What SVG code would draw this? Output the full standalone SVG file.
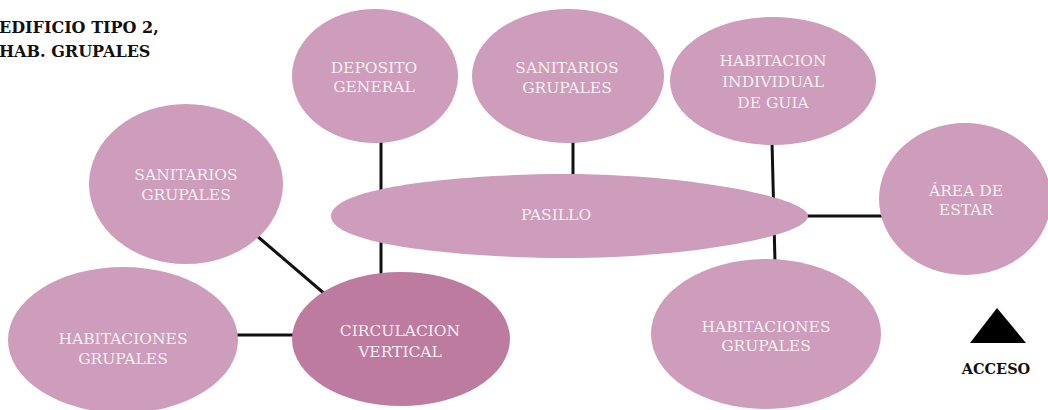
<svg xmlns="http://www.w3.org/2000/svg" width="1048" height="410" viewBox="0 0 1048 410">
<style>
.n{fill:#cd9dbb}
.d{fill:#bd7ba0}
.t{font-family:'DejaVu Serif','Liberation Serif',serif;font-size:15.5px;fill:#f7eff3;text-anchor:middle}
.b{font-family:'DejaVu Serif','Liberation Serif',serif;font-weight:bold;fill:#111}
.c line{stroke:#111;stroke-width:3}
</style>
<rect width="1048" height="410" fill="#fff"/>
<g id="title"><text class="b" x="-1" y="33" font-size="16">EDIFICIO TIPO 2,</text><text class="b" x="-1" y="57" font-size="16">HAB. GRUPALES</text></g>
<g class="c" id="connectors">
<line x1="381" y1="140" x2="381" y2="274"/>
<line x1="573" y1="140" x2="573" y2="180"/>
<line x1="772" y1="142" x2="775" y2="262"/>
<line x1="800" y1="216" x2="882" y2="216"/>
<line x1="257" y1="236" x2="326" y2="295"/>
<line x1="236" y1="335" x2="294" y2="335"/>
</g>
<g id="pasillo"><path class="n" d="M331,216 C331,186 470,174 565,174 C690,174 808,198 808,216 C808,236 690,258 565,258 C470,258 331,246 331,216 Z"/><text class="t" x="556" y="220">PASILLO</text></g>
<g id="deposito"><ellipse class="n" cx="375" cy="76" rx="83" ry="67"/><text class="t" x="374" y="73">DEPOSITO</text><text class="t" x="374" y="92">GENERAL</text></g>
<g id="sanitarios-top"><ellipse class="n" cx="568" cy="76" rx="96" ry="67"/><text class="t" x="567" y="73">SANITARIOS</text><text class="t" x="567" y="93">GRUPALES</text></g>
<g id="hab-guia"><ellipse class="n" cx="773" cy="81" rx="103" ry="64"/><text class="t" x="773" y="66">HABITACION</text><text class="t" x="773" y="87">INDIVIDUAL</text><text class="t" x="773" y="108">DE GUIA</text></g>
<g id="area-estar"><ellipse class="n" cx="965" cy="199" rx="86" ry="76"/><text class="t" x="966" y="196">ÁREA DE</text><text class="t" x="966" y="215">ESTAR</text></g>
<g id="sanitarios-left"><ellipse class="n" cx="186" cy="184" rx="97" ry="80"/><text class="t" x="186" y="180">SANITARIOS</text><text class="t" x="186" y="200">GRUPALES</text></g>
<g id="hab-left"><ellipse class="n" cx="123" cy="340" rx="115" ry="73"/><text class="t" x="123" y="344">HABITACIONES</text><text class="t" x="123" y="364">GRUPALES</text></g>
<g id="circulacion"><ellipse class="d" cx="401" cy="339" rx="109" ry="67"/><text class="t" x="400" y="336">CIRCULACION</text><text class="t" x="400" y="357">VERTICAL</text></g>
<g id="hab-right"><ellipse class="n" cx="766" cy="334" rx="115" ry="75"/><text class="t" x="766" y="332">HABITACIONES</text><text class="t" x="766" y="351">GRUPALES</text></g>
<g id="acceso"><polygon points="997,308 970,343 1026,343" fill="#000"/><text class="b" x="996" y="374" font-size="14.5" text-anchor="middle">ACCESO</text></g>
</svg>
